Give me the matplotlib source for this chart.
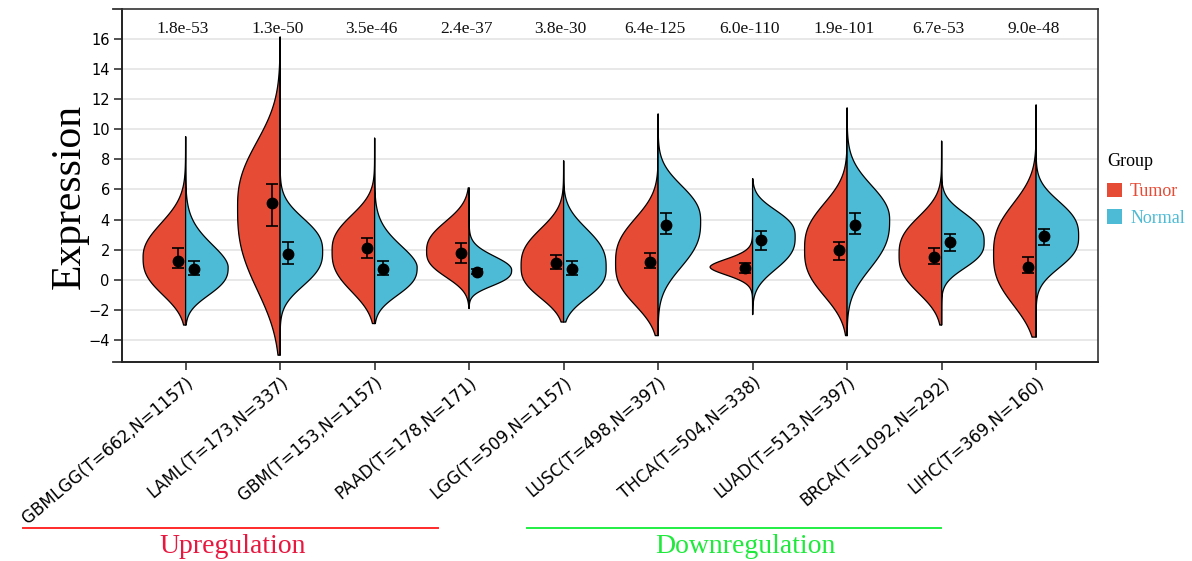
import numpy as np
import matplotlib
matplotlib.use("Agg")
import matplotlib.pyplot as plt
from matplotlib.patches import Polygon, Patch
from matplotlib.lines import Line2D

# ---------------- data ----------------
cancers = ['GBMLGG', 'LAML', 'GBM', 'PAAD', 'LGG', 'LUSC', 'THCA', 'LUAD', 'BRCA', 'LIHC']
n_tumor = [662, 173, 153, 178, 509, 498, 504, 513, 1092, 369]
n_normal = [1157, 337, 1157, 171, 1157, 397, 338, 397, 292, 160]
pvals = ['1.8e-53', '1.3e-50', '3.5e-46', '2.4e-37', '3.8e-30',
         '6.4e-125', '6.0e-110', '1.9e-101', '6.7e-53', '9.0e-48']

# point (median) and bar (quartiles)
tumor_mid = [1.25, 5.11, 2.09, 1.76, 1.09, 1.20, 0.76, 1.98, 1.54, 0.87]
tumor_lo = [0.81, 3.57, 1.43, 1.09, 0.70, 0.76, 0.47, 1.31, 1.03, 0.43]
tumor_hi = [2.09, 6.39, 2.75, 2.42, 1.65, 1.76, 1.09, 2.49, 2.09, 1.49]
normal_mid = [0.70, 1.72, 0.70, 0.54, 0.70, 3.64, 2.64, 3.64, 2.49, 2.93]
normal_lo = [0.32, 1.03, 0.32, 0.40, 0.32, 3.04, 1.98, 3.04, 1.94, 2.31]
normal_hi = [1.27, 2.53, 1.25, 0.70, 1.25, 4.41, 3.26, 4.41, 3.02, 3.35]

# violin outline: mode (widest y), y where width is half,
# y where width nearly vanishes
t_mode = [1.5, 4.8, 1.9, 1.9, 0.9, 1.1, 0.85, 2.0, 1.65, 1.7]
t_half_lo = [-1.1, -0.9, -0.9, 0.1, -1.3, -1.8, 0.2, -1.2, -1.0, -1.8]
t_close_lo = [-2.3, -3.0, -2.2, -1.2, -2.1, -2.9, -0.6, -2.4, -2.2, -3.5]
t_half_hi = [4.0, 9.4, 4.4, 4.0, 3.5, 4.2, 1.5, 5.2, 4.3, 5.2]
t_close_hi = [6.3, 13.0, 6.3, 5.7, 5.4, 5.6, 2.5, 6.7, 5.3, 6.6]

n_mode = [0.85, 1.9, 0.85, 0.65, 0.8, 3.9, 2.85, 4.0, 2.5, 2.9]
n_half_lo = [-1.1, -0.5, -1.1, -0.45, -1.3, 0.7, 0.6, 0.6, 0.7, 0.7]
n_close_lo = [-2.3, -1.8, -2.2, -1.1, -2.1, -0.4, -0.3, -0.9, -0.45, -0.45]
n_half_hi = [2.7, 4.2, 2.6, 1.7, 3.5, 6.4, 4.7, 6.5, 4.5, 5.3]
n_close_hi = [5.5, 6.0, 5.0, 2.8, 5.4, 8.4, 5.9, 8.8, 5.6, 6.6]

# overall data range of each cancer (ends of the thin centre line)
range_min = [-3.0, -5.0, -2.9, -1.9, -2.8, -3.7, -2.3, -3.7, -3.0, -3.8]
range_max = [9.5, 16.1, 9.4, 6.1, 7.9, 11.0, 6.7, 11.4, 9.2, 11.6]

groups = ['Tumor', 'Normal']
col_tumor = '#E64B35'
col_normal = '#4DBBD5'

# ---------------- figure ----------------
W_PX, H_PX = 1192, 561
fig = plt.figure(figsize=(W_PX / 100, H_PX / 100), dpi=100)
ax_l, ax_r, ax_t, ax_b = 122.3, 1098, 9.3, 362
ax = fig.add_axes([ax_l / W_PX, 1 - ax_b / H_PX, (ax_r - ax_l) / W_PX, (ax_b - ax_t) / H_PX])

HALF_W = 0.45


def side_params(mode, half, close):
    dh = abs(half - mode)
    dc = abs(close - mode)
    ratio = max(dc / dh, 1.05)
    p = np.log(5.99 / 1.386) / np.log(ratio)
    p = float(np.clip(p, 1.8, 2.7))
    sig = dh / 1.386 ** (1.0 / p)
    return sig, p


def half_profile(ys, mode, hlo, clo, hhi, chi):
    s_lo, p_lo = side_params(mode, hlo, clo)
    s_hi, p_hi = side_params(mode, hhi, chi)
    d = ys - mode
    z = np.where(d < 0, (np.abs(d) / s_lo) ** p_lo, (np.abs(d) / s_hi) ** p_hi)
    return HALF_W * np.exp(-0.5 * z)


def draw_half(xc, sign, mode, hlo, clo, hhi, chi, ymin, ymax, color):
    ys = np.linspace(ymin, ymax, 800)
    w = half_profile(ys, mode, hlo, clo, hhi, chi)
    xs = xc + sign * w
    verts = [(xc, ymin)] + list(zip(xs, ys)) + [(xc, ymax)]
    poly = Polygon(verts, closed=True, facecolor=color, edgecolor='black',
                   linewidth=0.9, joinstyle='round', zorder=2)
    ax.add_patch(poly)


pos = np.arange(len(cancers))
for i, xc in enumerate(pos):
    draw_half(xc, -1, t_mode[i], t_half_lo[i], t_close_lo[i], t_half_hi[i],
              t_close_hi[i], range_min[i], range_max[i], col_tumor)
    draw_half(xc, +1, n_mode[i], n_half_lo[i], n_close_lo[i], n_half_hi[i],
              n_close_hi[i], range_min[i], range_max[i], col_normal)

off = 0.085
tm = np.array(tumor_mid); nm = np.array(normal_mid)
ax.errorbar(pos - off, tm, yerr=[tm - np.array(tumor_lo), np.array(tumor_hi) - tm],
            fmt='o', color='black', ms=7.5, capsize=4.5, elinewidth=1.2,
            capthick=1.2, zorder=4)
ax.errorbar(pos + off, nm, yerr=[nm - np.array(normal_lo), np.array(normal_hi) - nm],
            fmt='o', color='black', ms=7.5, capsize=4.5, elinewidth=1.2,
            capthick=1.2, zorder=4)

# p-values
for i, xc in enumerate(pos):
    ax.text(xc - 0.03, 16.4, pvals[i], ha='center', va='baseline',
            family='Liberation Serif', fontsize=12.5, color='#111111')

# axes styling
ax.set_xlim(-0.67, 9.655)
ax.set_ylim(-5.45, 17.95)
ax.set_yticks(np.arange(-4, 17, 2))
ax.set_yticklabels([f'{v}' if v >= 0 else f'\u2212{abs(v)}' for v in range(-4, 17, 2)],
                   family='DejaVu Sans', fontsize=10.5)
ax.set_xticks(pos)
ax.set_xticklabels([f'{c}(T={t},N={n})' for c, t, n in zip(cancers, n_tumor, n_normal)],
                   rotation=40, ha='right', va='top', rotation_mode='anchor',
                   family='DejaVu Sans', fontsize=12.1)
ax.yaxis.grid(True, color='#E6E6E6', linewidth=1.3)
ax.set_axisbelow(True)
ax.tick_params(axis='both', length=5.5, width=1.1, color='#222222', pad=3)
ax.tick_params(axis='y', pad=3.5)
for s in ax.spines.values():
    s.set_color('#333333')
    s.set_linewidth(1.2)
ax.spines['left'].set_color('#222222')
ax.spines['left'].set_linewidth(1.4)
ax.spines['bottom'].set_color('#222222')
ax.spines['bottom'].set_linewidth(1.4)
ext = 9.0 / (ax_r - ax_l)
for yy in (0, 1):
    ax.add_line(Line2D([-ext, 0], [yy, yy], transform=ax.transAxes, color='#333333',
                       linewidth=1.3, clip_on=False))

# y label
fig.text(70 / W_PX, 1 - 196.5 / H_PX, 'Expression', rotation=90, ha='center', va='center',
         family='Liberation Serif', fontsize=30)

# legend
fig.text(1107 / W_PX, 1 - 161.5 / H_PX, 'Group', ha='left', va='center',
         family='Liberation Serif', fontsize=13)
handles = [Patch(facecolor=col_tumor, edgecolor='none'), Patch(facecolor=col_normal, edgecolor='none')]
leg = ax.legend(handles, groups, loc='upper left',
                bbox_to_anchor=(1107 / W_PX, 1 - 183 / H_PX), bbox_transform=fig.transFigure,
                frameon=False, borderpad=0, borderaxespad=0,
                prop={'family': 'Liberation Serif', 'size': 13},
                labelcolor=[col_tumor, col_normal], handlelength=0.83, handleheight=0.83,
                handletextpad=0.45, labelspacing=0.5)

# regulation annotations
fig.add_artist(Line2D([23.3 / W_PX, 437.7 / W_PX], [1 - 527.7 / H_PX] * 2,
                      color='#FF2A2A', linewidth=1.4))
fig.add_artist(Line2D([526.7 / W_PX, 940.7 / W_PX], [1 - 527.7 / H_PX] * 2,
                      color='#22EE44', linewidth=1.4))
fig.text(233 / W_PX, 1 - 553.3 / H_PX, 'Upregulation', ha='center', va='baseline',
         family='Liberation Serif', fontsize=20, color='#E8173F')
fig.text(745.7 / W_PX, 1 - 553.3 / H_PX, 'Downregulation', ha='center', va='baseline',
         family='Liberation Serif', fontsize=20, color='#1FEA3C')

fig.savefig('out.png', dpi=100)
